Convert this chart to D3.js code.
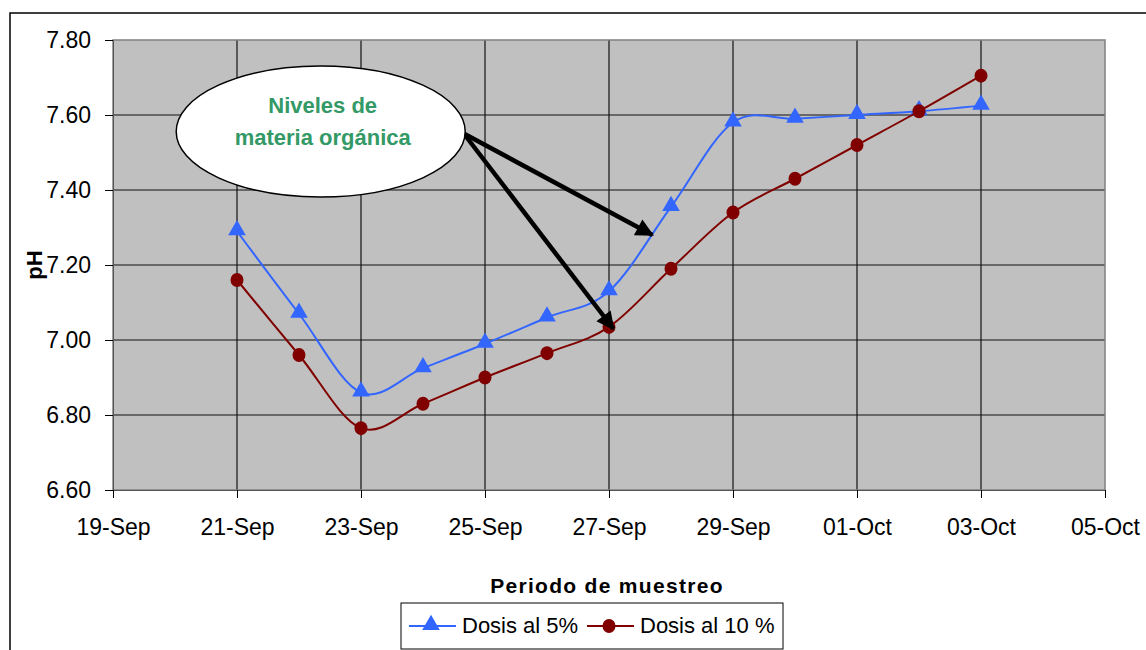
<!DOCTYPE html>
<html>
<head>
<meta charset="utf-8">
<script src="https://cdn.jsdelivr.net/npm/d3@7"></script>
<style>
  body { margin: 0; background: #fff; }
  svg { display: block; font-family: "Liberation Sans", Arial, sans-serif; }
</style>
</head>
<body>
<svg id="graph" width="1146" height="650"></svg>
<script>
// sampling dates (one per day)
var fechas = ["2009-09-21", "2009-09-22", "2009-09-23", "2009-09-24", "2009-09-25",
  "2009-09-26", "2009-09-27", "2009-09-28", "2009-09-29", "2009-09-30",
  "2009-10-01", "2009-10-02", "2009-10-03"];
var dosis5 = [7.29, 7.07, 6.86, 6.925, 6.99, 7.06, 7.13, 7.355, 7.58, 7.59, 7.60, 7.61, 7.625];
var dosis10 = [7.16, 6.96, 6.765, 6.83, 6.90, 6.965, 7.035, 7.19, 7.34, 7.43, 7.52, 7.61, 7.705];
var xTicks = ["2009-09-19", "2009-09-21", "2009-09-23", "2009-09-25", "2009-09-27",
  "2009-09-29", "2009-10-01", "2009-10-03", "2009-10-05"];
var yTicks = [6.6, 6.8, 7.0, 7.2, 7.4, 7.6, 7.8];

var parse = d3.timeParse("%Y-%m-%d");
var fmtDate = d3.timeFormat("%d-%b");

var graph = d3.select("#graph");

// chart border (runs off the page to the right and bottom)
graph.append("rect")
  .attr("x", 10).attr("y", 13)
  .attr("width", 1200).attr("height", 700)
  .attr("fill", "#fff").attr("stroke", "#000").attr("stroke-width", 1.5);

var pLeft = 113, pRight = 1105, pTop = 40, pBottom = 490;

var x = d3.scaleTime()
  .domain([parse(xTicks[0]), parse(xTicks[xTicks.length - 1])])
  .range([pLeft, pRight]);
var y = d3.scaleLinear()
  .domain([6.6, 7.8])
  .range([pBottom, pTop]);

graph.append("rect")
  .attr("x", pLeft).attr("y", pTop)
  .attr("width", pRight - pLeft).attr("height", pBottom - pTop)
  .attr("fill", "#c0c0c0");

// grid
graph.append("g").selectAll("line")
  .data(yTicks.slice(1, -1))
  .join("line")
  .attr("x1", pLeft).attr("x2", pRight)
  .attr("y1", function(d) { return y(d); })
  .attr("y2", function(d) { return y(d); })
  .attr("stroke", "#111").attr("stroke-width", 1.2);
graph.append("g").selectAll("line")
  .data(xTicks.slice(1, -1))
  .join("line")
  .attr("y1", pTop).attr("y2", pBottom)
  .attr("x1", function(d) { return x(parse(d)); })
  .attr("x2", function(d) { return x(parse(d)); })
  .attr("stroke", "#111").attr("stroke-width", 1.2);

graph.append("rect")
  .attr("x", pLeft).attr("y", pTop)
  .attr("width", pRight - pLeft).attr("height", pBottom - pTop)
  .attr("fill", "none").attr("stroke", "#808080").attr("stroke-width", 1.5);

// axes
var axis = d3.axisLeft(y)
  .tickValues(yTicks)
  .tickFormat(d3.format(".2f"))
  .tickSize(8)
  .tickPadding(14);
var gy = graph.append("g")
  .attr("transform", "translate(" + pLeft + ",0)")
  .call(axis);
gy.select(".domain").attr("stroke", "#555");
gy.selectAll("text").attr("font-size", 23).attr("fill", "#000")
  .attr("font-family", "Liberation Sans, Arial, sans-serif");

axis = d3.axisBottom(x)
  .tickValues(xTicks.map(parse))
  .tickFormat(fmtDate)
  .tickSize(8)
  .tickPadding(21);
var gx = graph.append("g")
  .attr("transform", "translate(0," + pBottom + ")")
  .call(axis);
gx.select(".domain").attr("stroke", "#555");
gx.selectAll("text").attr("font-size", 23).attr("fill", "#000")
  .attr("font-family", "Liberation Sans, Arial, sans-serif");

graph.append("text")
  .attr("transform", "translate(42,265) rotate(-90)")
  .attr("text-anchor", "middle")
  .attr("font-size", 22).attr("font-weight", "bold")
  .text("pH");

graph.append("text")
  .attr("x", 607).attr("y", 593)
  .attr("text-anchor", "middle")
  .attr("font-size", 21).attr("font-weight", "bold")
  .attr("letter-spacing", 1.3)
  .text("Periodo de muestreo");

// series
var line = d3.line()
  .curve(d3.curveCatmullRom.alpha(0))
  .x(function(d) { return x(parse(d.fecha)); })
  .y(function(d) { return y(d.ph); });

function serie(valores) {
  return fechas.map(function(f, i) { return { fecha: f, ph: valores[i] }; });
}
var tri = d3.symbol().type(d3.symbolTriangle).size(135);

graph.append("path")
  .attr("d", line(serie(dosis5)))
  .attr("stroke", "#3366ff").attr("stroke-width", 2).attr("fill", "none");
graph.append("g").selectAll("path")
  .data(serie(dosis5))
  .join("path")
  .attr("d", tri)
  .attr("transform", function(d) { return "translate(" + x(parse(d.fecha)) + "," + (y(d.ph) - 1) + ")"; })
  .attr("fill", "#3366ff");

graph.append("path")
  .attr("d", line(serie(dosis10)))
  .attr("stroke", "#800000").attr("stroke-width", 2).attr("fill", "none");
graph.append("g").selectAll("ellipse")
  .data(serie(dosis10))
  .join("ellipse")
  .attr("cx", function(d) { return x(parse(d.fecha)); })
  .attr("cy", function(d) { return y(d.ph); })
  .attr("rx", 6.5).attr("ry", 7)
  .attr("fill", "#800000");

// callout
var day = 24 * 3600 * 1000;
var cx = x(new Date(parse("2009-09-22").getTime() + 0.35 * day)), cy = y(7.556);
graph.append("defs").append("marker")
  .attr("id", "head")
  .attr("viewBox", "0 0 10 10")
  .attr("refX", 9).attr("refY", 5)
  .attr("markerWidth", 4.2).attr("markerHeight", 4)
  .attr("markerUnits", "strokeWidth")
  .attr("orient", "auto")
  .append("path")
  .attr("d", "M0,0L10,5L0,10z")
  .attr("fill", "#000");

var tips = [
  { dia: 8.7, ph: 7.28 },
  { dia: 8.07, ph: 7.03 }
];
graph.append("g").selectAll("line")
  .data(tips)
  .join("line")
  .attr("x1", cx + 143).attr("y1", cy + 2)
  .attr("x2", function(d) { return x(new Date(parse(xTicks[0]).getTime() + d.dia * day)); })
  .attr("y2", function(d) { return y(d.ph); })
  .attr("stroke", "#000").attr("stroke-width", 4.5)
  .attr("marker-end", "url(#head)");

graph.append("ellipse")
  .attr("cx", cx).attr("cy", cy)
  .attr("rx", 144.5).attr("ry", 65.5)
  .attr("fill", "#fff").attr("stroke", "#000").attr("stroke-width", 1.5);
graph.append("text")
  .attr("x", cx + 2).attr("y", cy - 19)
  .attr("text-anchor", "middle")
  .attr("font-size", 22).attr("font-weight", "bold")
  .attr("fill", "#339966")
  .text("Niveles de");
graph.append("text")
  .attr("x", cx + 2).attr("y", cy + 13)
  .attr("text-anchor", "middle")
  .attr("font-size", 22).attr("font-weight", "bold")
  .attr("fill", "#339966")
  .text("materia orgánica");

// legend
var leg = graph.append("g");
leg.append("rect")
  .attr("x", 401).attr("y", 603).attr("width", 382).attr("height", 46)
  .attr("fill", "#fff").attr("stroke", "#000").attr("stroke-width", 1);
var items = [
  { nombre: "Dosis al 5%", color: "#3366ff", x0: 409, tipo: "tri" },
  { nombre: "Dosis al 10 %", color: "#800000", x0: 587, tipo: "cir" }
];
items.forEach(function(it) {
  leg.append("line")
    .attr("x1", it.x0).attr("x2", it.x0 + 47)
    .attr("y1", 626).attr("y2", 626)
    .attr("stroke", it.color).attr("stroke-width", 2);
  if (it.tipo == "tri") {
    leg.append("path").attr("d", tri)
      .attr("transform", "translate(" + (it.x0 + 22) + ",625)")
      .attr("fill", it.color);
  } else {
    leg.append("ellipse")
      .attr("cx", it.x0 + 22).attr("cy", 626)
      .attr("rx", 6.5).attr("ry", 7)
      .attr("fill", it.color);
  }
  leg.append("text")
    .attr("x", it.x0 + 53).attr("y", 633)
    .attr("font-size", 22)
    .text(it.nombre);
});
</script>
</body>
</html>
